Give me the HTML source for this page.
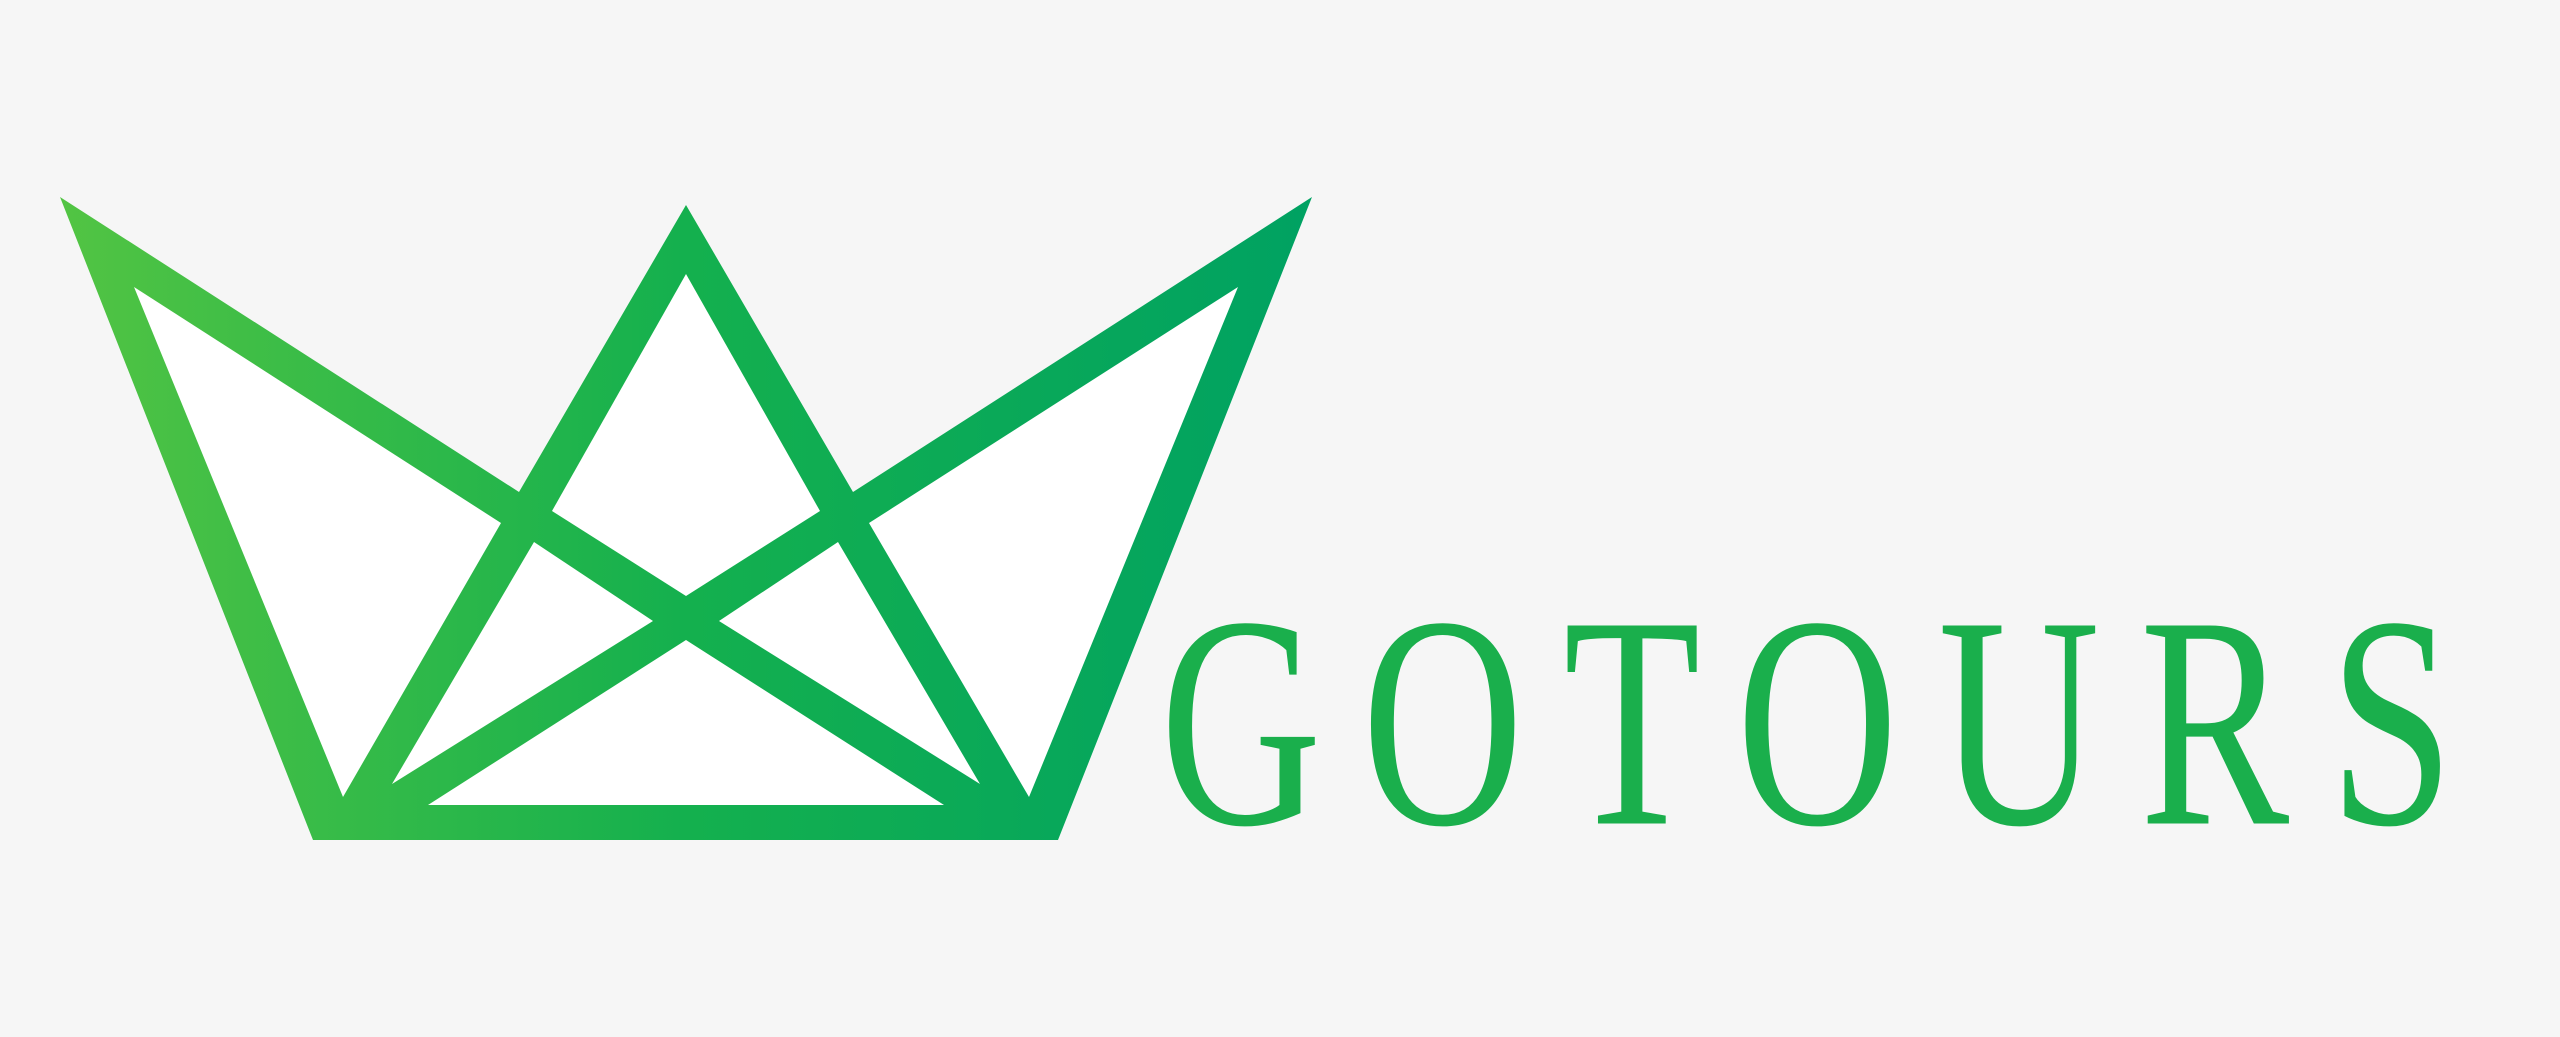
<!DOCTYPE html>
<html><head><meta charset="utf-8"><style>
html,body{margin:0;padding:0;background:#f6f6f6;width:2560px;height:1037px;overflow:hidden;position:relative}
#brand{position:absolute;left:1160px;top:641px;font-family:"Liberation Serif",serif;font-size:224px;line-height:224px;height:224px;color:#1aaf4c;letter-spacing:40px;white-space:nowrap;transform-origin:0 200px;transform:scale(1,1.35);margin:0}
svg{position:absolute;left:0;top:0}
</style></head><body>
<svg width="2560" height="1037" viewBox="0 0 2560 1037" xmlns="http://www.w3.org/2000/svg">
<defs>
<linearGradient id="g" x1="60" y1="0" x2="1312" y2="0" gradientUnits="userSpaceOnUse">
<stop offset="0" stop-color="#52c443"/><stop offset="0.5" stop-color="#14b04e"/><stop offset="1" stop-color="#00a262"/>
</linearGradient>
</defs>
<polygon fill="url(#g)" points="60,197 519,492 686,205 853,492 1312,197 1058,840 313,840"/>
<g fill="#ffffff">
<polygon points="134,287 501,523 343,797"/>
<polygon points="1238,287 869,523 1029,797"/>
<polygon points="686,274 820,511 686,596 552,511"/>
<polygon points="534,542 653,621 392,784"/>
<polygon points="838,542 719,621 980,784"/>
<polygon points="686,640 428,805 944,805"/>
</g>
</svg>
<div id="brand">GOTOURS</div>
</body></html>
